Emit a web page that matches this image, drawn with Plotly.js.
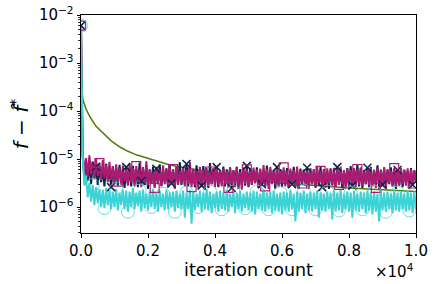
<!DOCTYPE html>
<html><head><meta charset="utf-8">
<script src="https://cdn.plot.ly/plotly-3.0.1.min.js"></script>
<style>html,body{margin:0;padding:0;background:#fff}#plot{width:436px;height:284px}</style>
</head><body><div id="plot"></div>
<script>
// iteration step between stored samples
const STEP = 50;
// values in units of 1e-6 (first sample is the starting value)
const navy = [6000,
11,4.0,9.2,3.5,7.8,3.0,8.5,3.8,6.9,2.9,
7.4,3.3,6.2,2.7,8.0,3.6,5.8,2.6,7.1,3.2,
6.5,2.8,7.6,3.4,5.5,2.5,6.8,3.0,6.0,2.7,
7.2,3.1,5.7,2.6,8.4,3.5,6.1,2.9,6.6,2.4,
5.9,3.2,7.0,2.7,6.3,3.0,7.7,2.8,5.6,3.3,
6.4,2.6,7.3,3.1,5.8,2.5,6.9,3.4,8.6,2.9,
6.2,3.0,7.9,2.7,6.5,3.2,5.9,2.6,7.4,3.1,
6.0,2.8,7.1,3.3,5.7,2.5,8.2,3.0,6.3,2.9,
6.8,2.6,5.9,3.2,7.0,2.7,6.1,3.4,6.6,2.5,
5.8,3.0,6.9,2.4,6.2,3.1,5.6,2.8,7.2,2.6,
6.4,2.9,5.9,3.2,6.7,2.5,6.0,3.0,5.5,2.7,
7.3,2.8,6.1,3.3,5.7,2.4,6.8,2.9,6.2,2.6,
5.9,3.1,6.5,2.5,5.6,3.0,6.9,2.7,6.0,2.4,
6.3,2.9,5.8,3.2,6.6,2.6,5.5,3.0,6.1,2.5,
5.9,2.8,7.0,2.6,6.2,3.1,5.7,2.4,6.4,2.9,
5.6,2.7,6.8,3.0,6.0,2.5,5.8,2.9,6.5,2.6,
7.1,2.8,6.2,3.2,7.8,2.7,6.4,2.5,5.9,3.0,
6.6,2.6,6.9,2.8,5.7,3.1,7.4,2.6,6.0,2.9,
6.3,2.5,5.8,3.0,6.7,2.7,6.1,2.4,5.9,2.8,
6.4,2.6,6.0,3.1,5.7,2.7,6.5,2.9,5.8,3.2];
const magenta = [6000,
14,5.0,10.5,4.2,12,4.8,9.0,3.9,10,4.4,
8.2,3.6,9.5,4.0,7.6,3.3,8.8,3.7,7.0,3.1,
7.8,3.4,6.6,2.9,7.3,3.5,6.1,2.8,8.0,3.2,
6.4,2.7,7.1,3.3,5.9,2.6,6.8,3.0,9.0,2.9,
6.2,3.1,5.7,2.5,6.9,3.2,6.0,2.7,7.4,3.0,
5.8,2.6,6.7,3.1,6.2,2.4,7.0,2.9,5.6,3.2,
6.5,2.7,5.9,3.0,8.8,2.6,6.3,2.9,5.7,2.5,
6.9,3.1,6.0,2.3,6.6,2.8,5.5,3.0,6.4,2.6,
7.2,2.9,5.8,2.7,6.3,3.1,5.6,2.5,6.8,3.0,
5.9,2.6,6.5,2.8,5.4,2.3,6.7,3.0,6.1,2.7,
5.7,2.9,6.6,3.1,6.0,2.5,6.3,2.8,7.5,2.7,
6.2,2.4,6.9,3.0,5.8,2.9,6.4,2.6,6.0,3.1,
6.7,2.7,5.5,2.5,6.3,3.0,5.9,2.6,7.0,2.9,
5.8,3.1,6.1,2.8,5.6,2.4,6.5,3.0,6.2,2.7,
6.8,2.9,5.7,2.6,6.0,2.5,6.4,3.1,5.9,2.8,
6.6,2.7,6.1,2.9,7.0,3.0,5.8,2.4,6.3,2.8,
5.9,3.1,6.5,2.6,6.2,2.9,6.7,2.7,5.8,3.0,
6.1,2.8,6.6,2.7,6.0,2.5,6.4,3.0,5.9,2.9,
6.8,2.6,6.2,3.1,5.7,2.8,6.5,2.7,6.0,2.9,
6.3,3.0,5.9,2.8,6.4,2.7,6.1,3.1,5.8,3.3];
const cyan = [6000,
12,2.8,4.5,1.6,3.2,1.3,2.9,1.1,2.6,1.2,
2.4,1.0,2.3,0.95,2.5,1.1,2.2,0.9,2.1,1.0,
2.4,0.85,2.0,1.1,2.3,0.9,2.2,0.8,2.1,1.0,
2.5,0.9,2.0,1.05,2.2,0.8,2.3,0.95,1.9,0.85,
2.1,1.0,2.4,0.9,2.0,0.8,2.2,1.0,1.9,0.85,
2.3,0.9,2.0,1.0,2.1,0.8,2.2,0.95,1.9,0.9,
2.2,0.6,2.0,0.9,2.3,0.45,2.1,0.85,1.9,1.0,
2.2,0.8,2.0,0.9,2.4,0.85,2.1,0.75,1.9,0.95,
2.1,0.8,2.2,0.9,2.0,0.85,2.3,0.8,1.9,1.0,
2.1,0.75,2.0,0.9,2.2,0.8,1.9,0.95,2.1,0.85,
2.0,0.8,2.2,0.7,2.1,0.9,1.9,0.85,2.3,0.8,
2.0,0.9,2.1,0.75,2.2,0.85,1.9,0.8,2.0,0.7,
2.1,0.85,2.0,0.8,2.3,0.9,1.9,0.5,2.1,0.8,
2.0,0.9,2.2,0.75,1.9,0.85,2.1,0.8,2.0,0.9,
2.2,0.6,2.0,0.85,1.9,0.8,2.1,0.9,2.0,0.55,
2.2,0.8,2.0,0.85,2.3,0.75,1.9,0.9,2.1,0.8,
2.0,0.6,2.2,0.85,1.9,0.8,2.1,0.9,2.0,0.75,
2.2,0.85,2.0,0.7,2.1,0.8,1.9,0.5,2.2,0.85,
2.0,0.8,2.1,0.9,1.9,0.75,2.3,0.85,2.0,0.8,
2.1,0.9,1.9,0.8,2.2,0.85,2.0,0.75,2.1,0.9];
// smooth curve, values in units of 1e-6
const greenX = [0,30,60,150,270,450,657,900,1164,1400,1672,2149,2657,3164,3642,4200,5000,5851,7000,8030,9000,9731,10000];
const greenY = [380,260,170,110,75,48,34.6,24,17.8,14.5,12.1,9.5,7.5,6.4,5.6,4.7,3.9,3.2,2.8,2.5,2.3,2.2,2.1];
// marker spacing (in samples)
const navyEvery = 9, magentaEvery = 11, cyanEvery = 7;
const xTickVals = [0,2000,4000,6000,8000,10000];
const xTickText = ['0.0','0.2','0.4','0.6','0.8','1.0'];
const yTickVals = [1e-6,1e-5,1e-4,1e-3,1e-2];
const yTickText = ['10<sup>−6</sup>','10<sup>−5</sup>','10<sup>−4</sup>','10<sup>−3</sup>','10<sup>−2</sup>'];

const C = {navy:'#0b2647', magenta:'#ab1b72', cyan:'#3bd3d6', green:'#4e7d0a'};
const SC = 1e-6;
function xs(arr){return arr.map((_,i)=>i*STEP);}
function ys(arr){return arr.map(v=>v*SC);}
function pick(arr,k,off){const o=[];for(let i=off||0;i<arr.length;i+=k)o.push(i);return o;}

function lineTrace(arr,color,w){return {x:xs(arr),y:ys(arr),mode:'lines',line:{color:color,width:w||1.5},hoverinfo:'skip',showlegend:false};}
function markTrace(arr,k,off,sym,size,color,lw,op){
  const idx=pick(arr,k,off);
  return {x:idx.map(i=>i*STEP),y:idx.map(i=>arr[i]*SC),mode:'markers',
    marker:{symbol:sym,size:size,color:color,opacity:op||1,line:{color:color,width:lw}},hoverinfo:'skip',showlegend:false};
}

const traces = [
  {x:greenX,y:ys(greenY),mode:'lines',line:{color:C.green,width:1.5},hoverinfo:'skip',showlegend:false},
  lineTrace(navy,C.navy,2),
  lineTrace(magenta,C.magenta,2),
  lineTrace(cyan,C.cyan,2),
  markTrace(navy,navyEvery,0,'x-thin-open',8,C.navy,1.5),
  markTrace(magenta,magentaEvery,0,'square-open',9,C.magenta,1.2),
  markTrace(cyan,cyanEvery,0,'circle-open',13,C.cyan,1,0.75)
];

const minorVals=[];
for(let e=-7;e<=-2;e++){for(let m=2;m<=9;m++){minorVals.push(m*Math.pow(10,e));}}

const FAM='DejaVu Sans, sans-serif';
const font={family:FAM,size:15,color:'#000'};
const layout = {
  width:436,height:284,
  margin:{l:81,r:20,t:15,b:51},
  paper_bgcolor:'#fff',plot_bgcolor:'#fff',
  font:font,
  xaxis:{range:[0,10000],tickmode:'array',tickvals:xTickVals,ticktext:xTickText,
    ticks:'outside',ticklen:3.5,tickwidth:1,tickcolor:'#000',
    showline:true,linecolor:'#000',linewidth:1,mirror:true,showgrid:false,zeroline:false,
    tickfont:font,title:{text:'iteration count',font:{family:FAM,size:17.5,color:'#000'},standoff:2}},
  yaxis:{type:'log',range:[-6.54,-2],tickmode:'array',tickvals:yTickVals,ticktext:yTickText,
    ticks:'outside',ticklen:3.5,tickwidth:1,tickcolor:'#000',
    minor:{tickmode:'array',tickvals:minorVals,ticks:'outside',ticklen:2,tickcolor:'#000',tickwidth:0.8,showgrid:false},
    showline:true,linecolor:'#000',linewidth:1,mirror:true,showgrid:false,zeroline:false,
    tickfont:font,title:{text:'<i>f</i> − <i>f\u0302</i><sup>*</sup>',font:{family:FAM,size:20,color:'#000'},standoff:4}},
  annotations:[{xref:'paper',yref:'paper',x:1,y:0,xanchor:'right',yanchor:'top',yshift:-26,
    text:'×10<sup>4</sup>',showarrow:false,font:{family:FAM,size:15,color:'#000'}}]
};
Plotly.newPlot('plot',traces,layout,{staticPlot:true,displayModeBar:false});
</script></body></html>
